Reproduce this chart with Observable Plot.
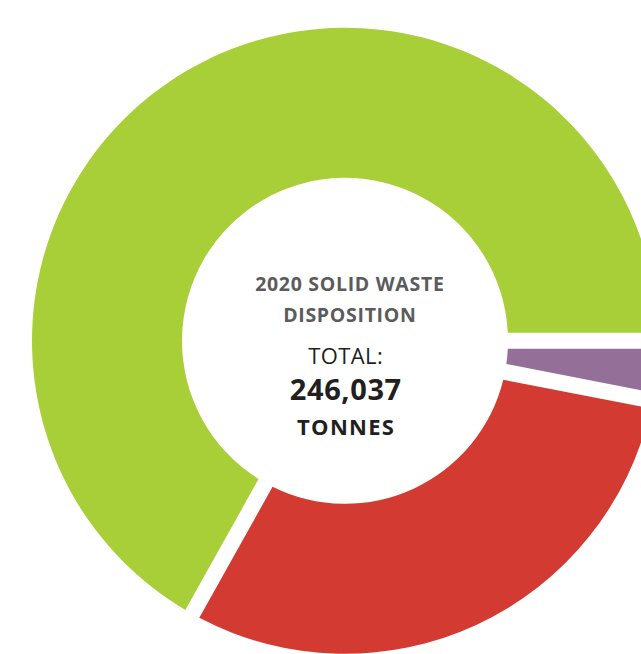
<!DOCTYPE html>
<html><head><meta charset="utf-8">
<script src="https://cdn.jsdelivr.net/npm/d3@7"></script>
<script src="https://cdn.jsdelivr.net/npm/@observablehq/plot@0.6"></script>
<style>
html,body{margin:0;padding:0;background:#fff;}
#chart svg{display:block;}
</style></head><body><div id="chart"></div>
<script>
// ---- data ----
const categories = ["Waste-to-energy", "Landfill", "Diverted"];
const tonnes = [7520, 73950, 164567];
const sliceColors = ["#946f98", "#d33a32", "#a9cf38"];
const titleLines = ["2020 SOLID WASTE", "DISPOSITION"];
const totalLabel = "TOTAL:";
const totalValue = 246037;
const unitLabel = "TONNES";

// ---- layout ----
const W = 641, H = 654;
const outerR = 313, innerR = 163, gap = 16;

const data = categories.map((c, i) => ({category: c, tonnes: tonnes[i], color: sliceColors[i]}));
const pie = d3.pie().sort(null).value(d => d.tonnes)
  .startAngle(Math.PI / 2).endAngle(Math.PI / 2 + 2 * Math.PI);
const slices = pie(data);

function donut(index, scales) {
  const x = scales.x, y = scales.y;
  const cx = x(0), cy = y(0);
  const ro = x(outerR) - x(0), ri = x(innerR) - x(0);
  const pr = Math.hypot(ri, ro);
  const arc = d3.arc().innerRadius(ri).outerRadius(ro).padRadius(pr).padAngle(gap / pr);
  const g = d3.create("svg:g").attr("transform", `translate(${cx},${cy})`);
  g.selectAll("path").data(slices).join("path")
    .attr("fill", d => d.data.color)
    .attr("d", arc);
  return g.node();
}

const font = "'Open Sans', sans-serif";
const textLines = [
  {text: titleLines[0], size: 19.5, weight: 700, fill: "#5b5b5d", dx: 4, dy: -56.5, ls: 0.7},
  {text: titleLines[1], size: 19.5, weight: 700, fill: "#5b5b5d", dx: 4, dy: -26, ls: 0.7},
  {text: totalLabel, size: 22, weight: 400, fill: "#231f20", dx: 0, dy: 15.5, ls: 0.4},
  {text: d3.format(",")(totalValue), size: 29, weight: 700, fill: "#231f20", dx: 0, dy: 49.5, ls: 0.6},
  {text: unitLabel, size: 22, weight: 700, fill: "#231f20", dx: 0, dy: 87, ls: 1.3}
];

const chart = Plot.plot({
  width: W, height: H,
  margin: 0,
  x: {type: "linear", domain: [-345, 296], range: [0, W], axis: null},
  y: {type: "linear", domain: [-313.2, 340.8], range: [H, 0], axis: null},
  style: {background: "#fff"},
  marks: [
    donut,
    ...textLines.map(t => Plot.text([t.text], {
      x: 0, y: 0, text: d => d, dx: t.dx, dy: t.dy,
      fontSize: t.size, fontWeight: t.weight, fill: t.fill, fontFamily: font,
      textAnchor: "middle"
    }))
  ]
});
// letter spacing (Plot.text has no option for it)
d3.select(chart).selectAll("text").each(function () {
  const t = textLines.find(l => l.text === this.textContent);
  if (t) d3.select(this).attr("letter-spacing", t.ls).attr("dx", t.ls / 2);
});
document.getElementById("chart").appendChild(chart);
</script>
</body></html>
